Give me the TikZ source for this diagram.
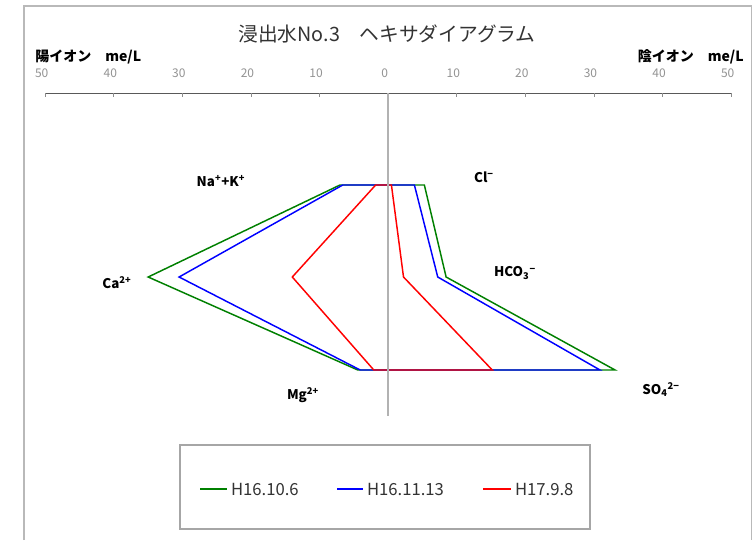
\documentclass[tikz,border=0pt]{standalone}
\usepackage{fontspec}
\setmainfont{Noto Sans CJK JP}
\definecolor{xlgreen}{RGB}{0,128,0}
\definecolor{xlblue}{RGB}{0,0,255}
\definecolor{xlred}{RGB}{255,0,0}
\tikzset{
  series/.style={line width=1.1pt, line join=miter},
  ionlabel/.style={font=\bfseries\fontsize{10}{11}\selectfont, inner sep=0pt},
  ticklabel/.style={font=\fontsize{9}{10}\selectfont, text=gray!85, inner sep=0pt, xshift=-2.5pt},
  axislabel/.style={font=\bfseries\fontsize{10.5}{12}\selectfont, inner sep=0pt},
  legtext/.style={font=\fontsize{12.5}{14}\selectfont, text=black!80, anchor=west, inner sep=2.5pt},
}
\begin{document}
\begin{tikzpicture}[x=0.75pt, y=-0.75pt]
  \useasboundingbox (0,0) rectangle (753,540);
  \fill[white] (0,0) rectangle (753,540);
  % chart frame
  \draw[gray!55, line width=1.2pt] (24,540) -- (24,6) -- (751.5,6) -- (751.5,540);

  \node[font=\fontsize{14.8}{16}\selectfont, text=black!80] (title) at (387,34) {浸出水No.3　ヘキサダイアグラム};
  \node[axislabel, anchor=west] (catlab) at (35,57) {陽イオン　me/L};
  \node[axislabel, anchor=east] (anlab) at (744,57) {陰イオン　me/L};

  \begin{scope}[shift={(388,0)}, xscale=6.86]
    \draw[black!65] (-50,93) -- (50,93);
    \foreach \v in {-50,-40,...,50} {
      \pgfmathtruncatemacro{\t}{abs(\v)}
      \draw[black!45] (\v,93) -- (\v,97);
      \node[ticklabel] at (\v,73) {\t};
    }
    % H16.10.6
    \draw[series, xlgreen] (-7.0,185) -- (-34.96,277) -- (-4.4,370) -- (33.1,370) -- (8.47,277) -- (5.3,185) -- cycle;
    % H16.11.13
    \draw[series, xlblue] (-6.6,185) -- (-30.45,277) -- (-4.05,370) -- (30.9,370) -- (7.25,277) -- (3.85,185) -- cycle;
    % H17.9.8
    \draw[series, xlred] (-1.8,185) -- (-13.95,277) -- (-2.07,370) -- (15.2,370) -- (2.26,277) -- (0.5,185) -- cycle;
    \draw[gray!60, line width=1.6pt] (0,93) -- (0,416);
  \end{scope}

  \node[ionlabel] (na) at (221,181) {Na\textsuperscript{+}+K\textsuperscript{+}};
  \node[ionlabel] (ca) at (117,283) {Ca\textsuperscript{2+}};
  \node[ionlabel] (mg) at (303,395) {Mg\textsuperscript{2+}};
  \node[ionlabel] (cl) at (484,177) {Cl\textsuperscript{−}};
  \node[ionlabel] (hco) at (515,273) {HCO\textsubscript{3}\textsuperscript{−}};
  \node[ionlabel] (so) at (661,390) {SO\textsubscript{4}\textsuperscript{2−}};

  % legend
  \draw[gray!70, line width=0.9pt] (180,445) rectangle (590,529);
  \draw[series, xlgreen] (200,489) -- (227,489) node[legtext] (leg1) {H16.10.6};
  \draw[series, xlblue] (337,489) -- (363,489) node[legtext] (leg2) {H16.11.13};
  \draw[series, xlred] (483,489) -- (511,489) node[legtext] (leg3) {H17.9.8};
\end{tikzpicture}
\end{document}
